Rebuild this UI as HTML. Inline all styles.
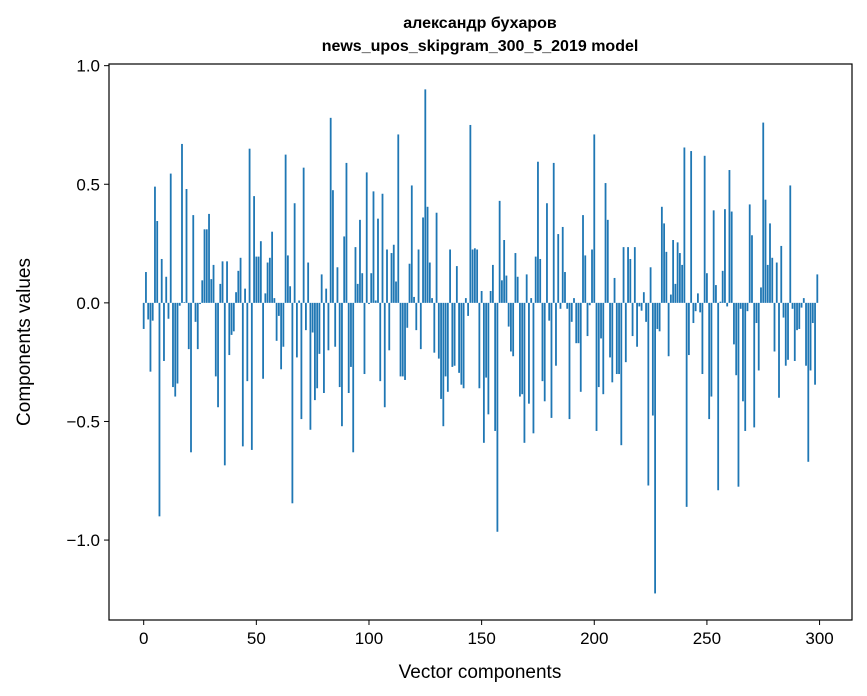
<!DOCTYPE html>
<html><head><meta charset="utf-8"><style>
body{margin:0;background:#fff;}
svg{display:block;font-family:"Liberation Sans",sans-serif;}
</style></head><body>
<svg id="chart" width="867" height="696">
<text x="480" y="28" text-anchor="middle" font-weight="bold" font-size="16">александр бухаров</text>
<text x="480" y="51" text-anchor="middle" font-weight="bold" font-size="16">news_upos_skipgram_300_5_2019 model</text>
<g id="bars"></g>
<g id="axes"></g>
<rect x="109" y="64" width="743" height="556" fill="none" stroke="#000" stroke-width="1.2"/>
<text x="480" y="678" text-anchor="middle" font-size="19">Vector components</text>
<text transform="translate(30,342) rotate(-90)" text-anchor="middle" font-size="19">Components values</text>
</svg>
<script>
const values = [
-0.11,0.13,-0.07,-0.29,-0.075,0.49,0.345,-0.90,0.185,-0.245,
0.11,-0.067,0.545,-0.355,-0.395,-0.34,-0.012,0.67,0.003,0.48,
-0.195,-0.63,0.37,-0.08,-0.195,-0.005,0.095,0.31,0.31,0.375,
0.10,0.16,-0.31,-0.44,0.08,0.175,-0.685,0.175,-0.22,-0.135,
-0.12,0.045,0.135,0.19,-0.605,0.06,-0.33,0.65,-0.62,0.45,
0.195,0.195,0.26,-0.32,0.04,0.17,0.19,0.30,0.02,-0.16,
-0.055,-0.28,-0.185,0.625,0.20,0.07,-0.845,0.42,-0.23,0.01,
-0.49,0.57,-0.115,0.17,-0.535,-0.125,-0.41,-0.36,-0.215,0.12,
-0.38,0.06,-0.20,0.78,0.475,-0.185,0.15,-0.355,-0.52,0.28,
0.59,-0.38,-0.27,-0.63,0.235,0.08,0.35,0.125,-0.30,0.55,
-0.005,0.125,0.47,0.01,0.355,-0.33,0.46,-0.44,0.225,-0.20,
0.21,0.245,0.09,0.71,-0.31,-0.31,-0.325,-0.105,0.165,0.495,
0.025,-0.115,0.225,-0.195,0.36,0.90,0.405,0.17,0.02,-0.21,
0.38,-0.235,-0.405,-0.52,-0.31,-0.375,0.225,-0.27,-0.265,0.155,
-0.295,-0.345,-0.36,0.02,-0.055,0.75,0.225,0.23,0.225,-0.36,
0.05,-0.59,-0.315,-0.47,0.05,0.16,-0.54,-0.965,0.43,0.095,
0.265,0.115,-0.10,-0.205,-0.225,0.21,0.11,-0.395,-0.385,-0.59,
0.12,-0.425,0.02,-0.55,0.195,0.595,0.185,-0.33,-0.415,0.42,
-0.075,-0.485,0.59,-0.265,0.29,-0.025,0.32,0.13,-0.025,-0.49,
-0.08,0.02,-0.17,-0.17,-0.375,0.37,0.20,-0.14,-0.01,0.225,
0.71,-0.54,-0.355,-0.15,-0.385,0.505,0.35,-0.23,-0.335,0.105,
-0.30,-0.30,-0.60,0.235,-0.25,0.235,0.185,-0.14,0.235,-0.185,
-0.015,-0.033,0.045,-0.08,-0.77,0.15,-0.475,-1.225,-0.11,-0.12,
0.405,0.335,0.215,-0.225,0.035,0.265,0.08,0.255,0.21,0.16,
0.655,-0.86,-0.22,0.64,-0.085,-0.035,0.04,-0.04,-0.30,0.62,
0.125,-0.49,-0.395,0.39,0.075,-0.79,0.005,0.135,0.395,-0.015,
0.56,0.385,-0.175,-0.305,-0.775,-0.025,-0.415,-0.54,-0.035,0.415,
0.285,-0.525,-0.085,-0.285,0.065,0.76,0.435,0.16,0.335,0.19,
-0.205,0.17,-0.40,0.24,-0.062,-0.265,-0.24,0.495,-0.025,-0.245,
-0.115,-0.11,-0.02,0.02,-0.265,-0.67,-0.285,-0.085,-0.345,0.12
];
const xTicks = [0,50,100,150,200,250,300];
const yTicks = [-1.0,-0.5,0.0,0.5,1.0];
const yTickLabels = ["−1.0","−0.5","0.0","0.5","1.0"];

const L=109,R=852,T=64,B=620;
const xmin=-15.4,xmax=314.4,ymin=-1.337,ymax=1.007;
function xs(v){return L+(v-xmin)/(xmax-xmin)*(R-L);}
function ys(v){return B-(v-ymin)/(ymax-ymin)*(B-T);}
const NS="http://www.w3.org/2000/svg";
const bars=document.getElementById('bars');
values.forEach((v,i)=>{
  const r=document.createElementNS(NS,'rect');
  const x0=xs(i-0.4),x1=xs(i+0.4);
  const y0=ys(Math.max(v,0)),y1=ys(Math.min(v,0));
  r.setAttribute('x',x0);r.setAttribute('width',x1-x0);
  r.setAttribute('y',y0);r.setAttribute('height',Math.max(y1-y0,0.3));
  r.setAttribute('fill','#1f77b4');
  
  
  bars.appendChild(r);
});
const axes=document.getElementById('axes');
xTicks.forEach(t=>{
  const x=xs(t);
  const l=document.createElementNS(NS,'line');
  l.setAttribute('x1',x);l.setAttribute('x2',x);l.setAttribute('y1',B);l.setAttribute('y2',B+5);
  l.setAttribute('stroke','#000');
  
  
  axes.appendChild(l);
  const tx=document.createElementNS(NS,'text');
  tx.setAttribute('x',x);tx.setAttribute('y',B+24);tx.setAttribute('text-anchor','middle');tx.setAttribute('font-size','17');
  tx.textContent=t;
  
  
  axes.appendChild(tx);
});
yTicks.forEach((t,i)=>{
  const y=ys(t);
  const l=document.createElementNS(NS,'line');
  l.setAttribute('x1',L-5);l.setAttribute('x2',L);l.setAttribute('y1',y);l.setAttribute('y2',y);
  l.setAttribute('stroke','#000');
  
  
  axes.appendChild(l);
  const tx=document.createElementNS(NS,'text');
  tx.setAttribute('x',L-9);tx.setAttribute('y',y+6);tx.setAttribute('text-anchor','end');tx.setAttribute('font-size','17');
  tx.textContent=yTickLabels[i];
  
  
  axes.appendChild(tx);
});
</script>
</body></html>
